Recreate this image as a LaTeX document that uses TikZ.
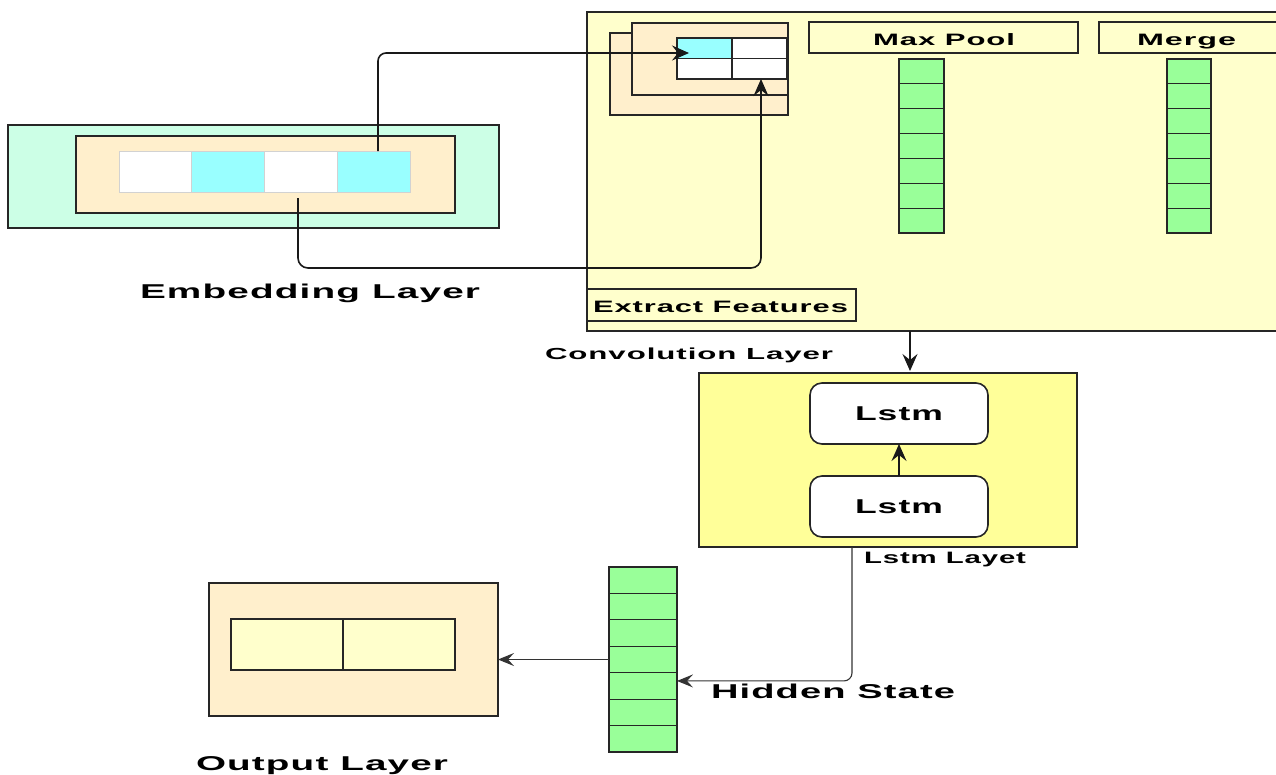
\documentclass[tikz,border=0pt]{standalone}
\usepackage{fontspec}
\setmainfont{Liberation Sans}[LetterSpace=3]
\usepackage{graphicx}
\usetikzlibrary{arrows.meta}
\definecolor{convbg}{HTML}{FFFFCC}
\definecolor{lstmbg}{HTML}{FFFF99}
\definecolor{peach}{HTML}{FFEFCC}
\definecolor{mint}{HTML}{CCFFE6}
\definecolor{cyancell}{HTML}{99FFFF}
\definecolor{greencell}{HTML}{99FF99}
\definecolor{lightyel}{HTML}{FFFFCC}
\newcommand{\sxt}[3]{\resizebox{#1}{\height}{\fontsize{#2}{#2}\selectfont\bfseries #3}}
\tikzset{
  box/.style={draw=black!85, line width=1.6pt, inner sep=0pt, outer sep=0pt},
  ecell/.style={draw=gray!35, line width=0.8pt, inner sep=0pt, outer sep=0pt, minimum width=72.75pt, minimum height=41pt},
  gcell/.style={draw=black!85, line width=1.2pt, inner sep=0pt, outer sep=0pt, fill=greencell},
  lstmbox/.style={box, fill=white, rounded corners=12pt, minimum width=178pt, minimum height=61pt},
  lbl/.style={inner sep=0pt, outer sep=0pt, anchor=base west},
  arr/.style={-{Stealth[length=17pt,width=15pt,inset=6pt]}, line width=1.6pt, draw=black!90},
  arrthin/.style={-{Stealth[length=16pt,width=13pt,inset=6pt]}, line width=1.1pt, draw=black!80},
}
\begin{document}
\begin{tikzpicture}[x=1pt,y=-1pt]
\useasboundingbox (0,0) rectangle (1276,774);
% ---------- convolution layer ----------
\node[box, fill=convbg, minimum width=698pt, minimum height=319pt] (conv) at (936,171.5) {};
\node[box, fill=peach, minimum width=178pt, minimum height=82pt] (fback) at (699,74) {};
\node[box, fill=peach, minimum width=156pt, minimum height=72pt] (ffront) at (710,59) {};
\node[box, line width=1.3pt, fill=cyancell, minimum width=55pt, minimum height=20.5pt] (g11) at (704.5,48.25) {};
\node[box, line width=1.3pt, fill=white, minimum width=55pt, minimum height=20.5pt] (g12) at (759.5,48.25) {};
\node[box, line width=1.3pt, fill=white, minimum width=55pt, minimum height=20.5pt] (g21) at (704.5,68.75) {};
\node[box, line width=1.3pt, fill=white, minimum width=55pt, minimum height=20.5pt] (g22) at (759.5,68.75) {};
\node[box, minimum width=269pt, minimum height=31pt] (mpbox) at (943.5,37.5) {};
\node[box, minimum width=191pt, minimum height=31pt] (mgbox) at (1194.5,37.5) {};
\node[lbl] (mplbl) at (873,45) {\sxt{142pt}{16.5pt}{Max Pool}};
\node[lbl] (mglbl) at (1137,45) {\sxt{99pt}{16.5pt}{Merge}};
\foreach \i in {1,...,7}{
  \node[gcell, minimum width=45pt, minimum height=24.857pt] (mp\i) at (921.5,{59+(\i-0.5)*24.857}) {};
  \node[gcell, minimum width=44pt, minimum height=24.857pt] (mg\i) at (1189,{59+(\i-0.5)*24.857}) {};
}
\node[box, minimum width=269pt, minimum height=32pt] (efbox) at (721.5,305) {};
\node[lbl] (eflbl) at (593,312) {\sxt{255pt}{16.5pt}{Extract Features}};
\node[lbl] (convlbl) at (545,359) {\sxt{288pt}{16pt}{Convolution Layer}};
% ---------- embedding layer ----------
\node[box, fill=mint, minimum width=491pt, minimum height=103pt] (emb) at (253.5,176.5) {};
\node[box, fill=peach, minimum width=379pt, minimum height=77pt] (embin) at (265.5,174.5) {};
\node[ecell, fill=white] (e1) at (155.4,171.5) {};
\node[ecell, fill=cyancell] (e2) at (228.1,171.5) {};
\node[ecell, fill=white] (e3) at (300.9,171.5) {};
\node[ecell, fill=cyancell] (e4) at (373.6,171.5) {};
\node[lbl] (emblbl) at (140,298) {\sxt{340pt}{20pt}{Embedding Layer}};
% ---------- lstm layer ----------
\node[box, fill=lstmbg, minimum width=378pt, minimum height=174pt] (lstmL) at (888,460) {};
\node[lstmbox] (l1) at (899,413.5) {\sxt{88pt}{20pt}{Lstm}};
\node[lstmbox] (l2) at (899,506.5) {\sxt{88pt}{20pt}{Lstm}};
\node[lbl] (lstmlbl) at (864,563) {\sxt{162pt}{16.5pt}{Lstm Layet}};
% ---------- hidden state ----------
\foreach \i in {1,...,7}{
  \node[gcell, minimum width=68pt, minimum height=26.43pt] (h\i) at (643,{567+(\i-0.5)*26.43}) {};
}
\node[lbl] (hidlbl) at (711,698) {\sxt{244pt}{20pt}{Hidden State}};
% ---------- output layer ----------
\node[box, fill=peach, minimum width=289pt, minimum height=133pt] (out) at (353.5,649.5) {};
\node[box, line width=1.3pt, fill=lightyel, minimum width=112pt, minimum height=51pt] (o1) at (287,644.5) {};
\node[box, line width=1.3pt, fill=lightyel, minimum width=112pt, minimum height=51pt] (o2) at (399,644.5) {};
\node[lbl] (outlbl) at (196,770) {\sxt{252pt}{20pt}{Output Layer}};
% ---------- connectors ----------
\coordinate (t1) at (689,53);
\draw[arr, rounded corners=8pt] ([xshift=4.4pt]e4.north) |- (t1);
\coordinate (s2) at (298,198);
\draw[arr, rounded corners=10pt] (s2) -- ++(0,70) -| ([xshift=1.5pt]g22.south);
\draw[arr] ([xshift=22pt]lstmL.north |- conv.south) -- ([xshift=22pt,yshift=2pt]lstmL.north);
\draw[arr] (l2.north) -- (l1.south);
\draw[arrthin, rounded corners=8pt] ([xshift=-36pt]lstmL.south) |- ([yshift=5pt]h5.east);
\draw[arrthin] (h4.west) -- (h4.west -| out.east);
\end{tikzpicture}
\end{document}
